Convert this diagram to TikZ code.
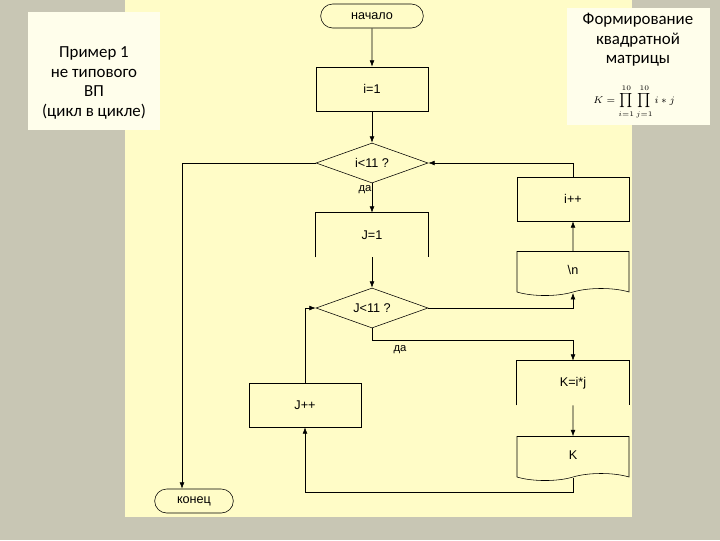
\documentclass[tikz,border=0pt]{standalone}
\usepackage{fontspec}
\setmainfont{Carlito}
\newfontfamily\arialf{Liberation Sans}
\usetikzlibrary{arrows.meta,shapes.geometric,shapes.symbols,shapes.misc}

\begin{document}
\begin{tikzpicture}[x=0.025cm,y=-0.025cm]
	\tikzstyle{blk} = [
		rectangle, draw=black, thin, minimum width=2.8cm, minimum height=1.1cm, font=\arialf\small
	]
	\tikzstyle{term} = [
		rounded rectangle, draw=black, thin, minimum width=2.8cm, minimum height=0.6cm, font=\arialf\small
	]
	\tikzstyle{cond} = [
		diamond, draw=black, thin, aspect=2.7, minimum width=2.8cm, minimum height=1cm, inner sep=1pt, font=\arialf\small
	]
	\tikzstyle{doc} = [
		tape, tape bend top=none, draw=black, thin, minimum width=2.8cm, minimum height=1.1cm, font=\arialf\small
	]
	\tikzstyle{conn} = [
		-{Latex[length=1.6mm,width=1.2mm]}, thin
	]

	% Background
	\fill[gray!55!white!90!yellow] (0,0) rectangle (720,540);
	\useasboundingbox (0,0) rectangle (720,540);
	\fill[yellow!22] (125,0) rectangle (632,517);
	\fill[yellow!8] (28,12) rectangle (160,130);
	\fill[yellow!8] (567,8) rectangle (710,125);

	% Captions
	\node[align=center, font=\large] (title) at (94,83) {Пример 1\\не типового\\ВП\\(цикл в цикле)};
	\node[align=center, font=\large] (task) at (638,40) {Формирование\\квадратной\\матрицы};
	\node[font=\scriptsize, inner sep=0pt] (formula) at (634,102) {$K=\prod\limits_{i=1}^{10}\prod\limits_{j=1}^{10} i*j$};

	% Outer loop
	\node (start) [term] at (372,16) {начало};
	\node (iInit) [blk] at (372,89) {i=1};
	\node (iCond) [cond] at (372,163) {i<11 ?};
	\node (jInit) [blk, draw=none] at (372,235) {J=1};
	\draw (jInit.south west) -- (jInit.north west) -- (jInit.north east) -- (jInit.south east);
	\node (stop) [term, minimum width=2.2cm] at (194,501) {конец};

	% Inner loop
	\node (jCond) [cond] at (372,308) {J<11 ?};
	\node (iInc) [blk] at (573,199) {i++};
	\node (newline) [doc] at (573,270) {\textbackslash n};
	\node (mult) [blk, draw=none] at (573,383) {K=i*j};
	\draw (mult.south west) -- (mult.north west) -- (mult.north east) -- (mult.south east);
	\node (out) [doc] at (573,455) {K};
	\node (jInc) [blk] at (305,405) {J++};

	% labels
	\node[font=\arialf\footnotesize] (yes1) at (365,190) {да};
	\node[font=\arialf\footnotesize] (yes2) at (400,350) {да};

	% helper points
	\coordinate (exitL) at (182,163);
	\coordinate (jRight) at (573,308);
	\coordinate (iBack) at (573,163);
	\coordinate (jDown) at (573,340);
	\coordinate (kBack) at (573,492);
	\coordinate (jBack) at (305,308);

	% Connections
	\draw[conn] (start) -- (iInit);
	\draw[conn] (iInit) -- (iCond);
	\draw[conn] (iCond) -- (jInit);
	\draw[conn] (jInit) -- (jCond);
	\draw[conn] (iCond.west) -- (exitL) -- (exitL |- stop.north);
	\draw[conn] (jCond.east) -- (jRight) -- ([yshift=-3pt]newline.south);
	\draw[conn] (newline) -- (iInc);
	\draw[conn] (iInc.north) -- (iBack) -- (iCond.east);
	\draw[conn] (jCond.south) |- (jDown) -- (mult.north);
	\draw[conn] (mult) -- (out);
	\draw[conn] ([yshift=-3pt]out.south) -- (kBack) -| (jInc.south);
	\draw[conn] (jInc.north) -- (jBack) -- (jCond.west);
\end{tikzpicture}
\end{document}
